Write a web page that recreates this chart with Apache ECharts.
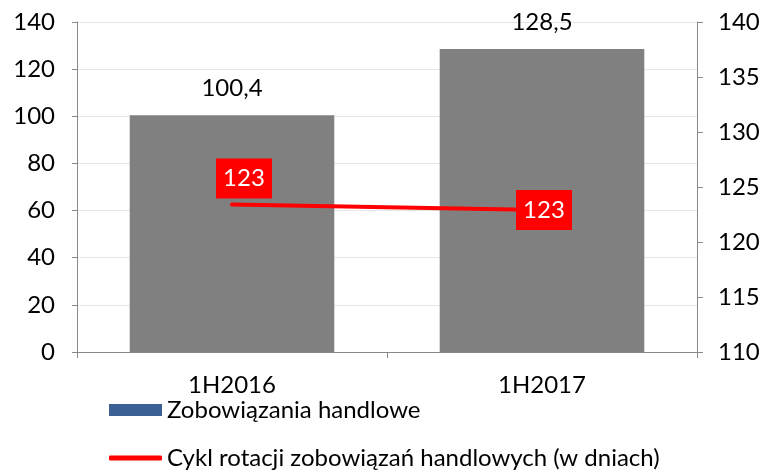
<!DOCTYPE html>
<html>
<head>
<meta charset="utf-8">
<script src="https://cdn.jsdelivr.net/npm/echarts@6/dist/echarts.min.js"></script>
<style>
  html, body { margin: 0; padding: 0; background: #fff; }
  #chart { width: 767px; height: 471px; }
</style>
</head>
<body>
<div id="chart"></div>
<script>
// data
var categories = ['1H2016', '1H2017'];
var payables = [100.4, 128.5];          // left axis, bars
var cycleDays = [123.4, 122.9];         // right axis, line (days)
var barName = 'Zobowiązania handlowe';
var lineName = 'Cykl rotacji zobowiązań handlowych (w dniach)';

var font = 'Lato, "Open Sans", sans-serif';
var fs = 24;
// label boxes: first sits above the point, second is centred on it
var lineOffsets = [[12, -26], [2, 0]];
var lineData = cycleDays.map(function (v, i) {
  return { value: v, label: { offset: lineOffsets[i] } };
});

var chart = echarts.init(document.getElementById('chart'));

chart.setOption({
  animation: false,
  textStyle: { fontFamily: font },
  grid: { left: 77, right: 70, top: 22, bottom: 119 },
  legend: [
    {
      data: [{ name: barName, icon: 'rect', itemStyle: { color: '#3a6094' } }],
      left: 109, top: 397, padding: 0, itemWidth: 53, itemHeight: 12, itemGap: 4,
      textStyle: { fontSize: 24, color: '#000', fontFamily: font, lineHeight: 26 }
    },
    {
      data: [{ name: lineName, icon: 'roundRect' }],
      left: 109, top: 445, padding: 0, itemWidth: 53, itemHeight: 5, itemGap: 4,
      textStyle: { fontSize: 24, color: '#000', fontFamily: font, lineHeight: 26 }
    }
  ],
  xAxis: {
    type: 'category',
    data: categories,
    axisLine: { lineStyle: { color: '#888' } },
    axisTick: { show: true, length: 6, lineStyle: { color: '#888' } },
    axisLabel: { fontSize: fs, color: '#000', margin: 21, fontFamily: font }
  },
  yAxis: [
    {
      type: 'value', min: 0, max: 140, interval: 20,
      axisLine: { show: true, lineStyle: { color: '#888' } },
      axisTick: { show: true, length: 5, lineStyle: { color: '#888' } },
      splitLine: { lineStyle: { color: '#e6e6e6' } },
      axisLabel: { fontSize: fs, color: '#000', margin: 22, fontFamily: font }
    },
    {
      type: 'value', min: 110, max: 140, interval: 5,
      axisLine: { show: true, lineStyle: { color: '#888' } },
      axisTick: { show: true, length: 6, lineStyle: { color: '#888' } },
      splitLine: { show: false },
      axisLabel: { fontSize: fs, color: '#000', margin: 21, fontFamily: font }
    }
  ],
  series: [
    {
      name: barName,
      type: 'bar',
      data: payables,
      barWidth: '66%',
      itemStyle: { color: '#808080' },
      label: {
        show: true, position: 'top', distance: 15,
        fontSize: fs, color: '#000', fontFamily: font,
        formatter: function (p) { return String(p.value).replace('.', ','); }
      }
    },
    {
      name: lineName,
      type: 'line',
      yAxisIndex: 1,
      data: lineData,
      symbol: 'circle',
      symbolSize: 1,
      showSymbol: true,
      lineStyle: { color: '#ff0000', width: 4, cap: 'round' },
      itemStyle: { color: '#ff0000' },
      label: {
        show: true,
        position: 'inside',
        fontSize: fs, color: '#fff', fontFamily: font,
        backgroundColor: '#ff0000',
        width: 42, align: 'center', lineHeight: 24,
        padding: [8, 7, 8, 7],
        formatter: function (p) { return Math.round(p.value); }
      }
    }
  ]
});
</script>
</body>
</html>
